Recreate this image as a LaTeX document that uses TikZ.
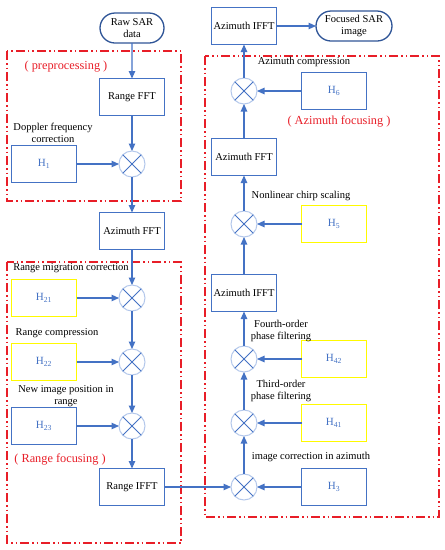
\documentclass[tikz,border=0pt]{standalone}
\usepackage{fontspec}
\setmainfont{Liberation Serif}
\usetikzlibrary{arrows.meta,shapes.misc}
\definecolor{bl}{RGB}{68,114,196}
\definecolor{lbl}{RGB}{180,200,235}
\definecolor{dbl}{RGB}{47,85,151}
\definecolor{rd}{RGB}{232,30,40}
\definecolor{yl}{RGB}{255,250,0}
\tikzset{
  blk/.style={draw=bl,line width=1.3pt,minimum width=65pt,minimum height=37pt,inner sep=1pt,outer sep=0pt,font=\fontsize{10.5}{12}\selectfont},
  hblk/.style={blk,text=bl,font=\fontsize{11}{12}\selectfont},
  yblk/.style={hblk,draw=yl,line width=1.8pt},
  term/.style={draw=dbl,line width=1.3pt,rounded rectangle,minimum width=66pt,minimum height=30pt,inner sep=1pt,outer sep=0pt,align=center,font=\fontsize{10.5}{12}\selectfont},
  mult/.style={circle,draw=lbl,line width=1pt,minimum size=26pt,inner sep=0pt,outer sep=0pt},
  arr/.style={draw=bl,line width=1.1pt,-{Triangle[length=7.5pt,width=6.5pt]}},
  lbl/.style={font=\fontsize{10.5}{11.5}\selectfont,align=center,inner sep=0pt},
  rlbl/.style={font=\fontsize{12.3}{14}\selectfont,text=rd,inner sep=0pt},
  grp/.style={draw=rd,line width=1.5pt,dash pattern=on 9pt off 3pt on 1.5pt off 3pt on 1.5pt off 3pt},
}
\newcommand{\crossx}[1]{\draw[bl,line width=1pt] (#1.45) -- (#1.225) (#1.135) -- (#1.315);}
\begin{document}
\begin{tikzpicture}[x=1pt,y=-1pt]
\useasboundingbox (0,0) rectangle (445,550);
% group boxes
\draw[grp] (7,51) rectangle (181,201);
\draw[grp] (7,262) rectangle (181,543);
\draw[grp] (205,56) rectangle (439,517);
% left column
\node[term] (raw) at (132,28) {Raw SAR\\data};
\node[blk] (rfft) at (132,97) {Range FFT};
\node[hblk] (h1) at (44,164) {H\textsubscript{1}};
\node[mult] (m1) at (132,164) {}; \crossx{m1}
\node[blk] (afft1) at (132,231) {Azimuth FFT};
\node[yblk] (h21) at (44,298) {H\textsubscript{21}};
\node[mult] (m21) at (132,298) {}; \crossx{m21}
\node[yblk] (h22) at (44,362) {H\textsubscript{22}};
\node[mult] (m22) at (132,362) {}; \crossx{m22}
\node[hblk] (h23) at (44,426) {H\textsubscript{23}};
\node[mult] (m23) at (132,426) {}; \crossx{m23}
\node[blk] (rifft) at (132,487) {Range IFFT};
% right column
\node[blk] (aifft2) at (244,26) {Azimuth IFFT};
\node[term,minimum width=78pt] (foc) at (354,26) {Focused SAR\\image};
\node[mult] (m6) at (244,91) {}; \crossx{m6}
\node[hblk] (h6) at (334,91) {H\textsubscript{6}};
\node[blk] (afft2) at (244,157) {Azimuth FFT};
\node[mult] (m5) at (244,224) {}; \crossx{m5}
\node[yblk] (h5) at (334,224) {H\textsubscript{5}};
\node[blk] (aifft1) at (244,293) {Azimuth IFFT};
\node[mult] (m42) at (244,359) {}; \crossx{m42}
\node[yblk] (h42) at (334,359) {H\textsubscript{42}};
\node[mult] (m41) at (244,423) {}; \crossx{m41}
\node[yblk] (h41) at (334,423) {H\textsubscript{41}};
\node[mult] (m3) at (244,487) {}; \crossx{m3}
\node[hblk] (h3) at (334,487) {H\textsubscript{3}};
% labels
\node[rlbl] (tpre) at (66,67) {(~preprocessing~)};
\node[rlbl] (trng) at (60,459) {(~Range focusing~)};
\node[rlbl] (tazi) at (339,121) {(~Azimuth focusing~)};
\node[lbl] (tdop) at (53,133) {Doppler frequency\\correction};
\node[lbl] (trmc) at (71,268) {Range migration correction};
\node[lbl] (trc) at (57,333) {Range compression};
\node[lbl] (tnip) at (66,396) {New image position in\\range};
\node[lbl] (tac) at (304,62) {Azimuth compression};
\node[lbl] (tncs) at (301,196) {Nonlinear chirp scaling};
\node[lbl] (tfo) at (281,331) {Fourth-order\\phase filtering};
\node[lbl] (tto) at (281,391) {Third-order\\phase filtering};
\node[lbl] (tica) at (311,457) {image correction in azimuth};
% connectors left
\draw[arr] (raw) -- (rfft);
\draw[arr] (rfft) -- (m1);
\draw[arr] (h1) -- (m1);
\draw[arr] (m1) -- (afft1);
\draw[arr] (afft1) -- (m21);
\draw[arr] (h21) -- (m21);
\draw[arr] (m21) -- (m22);
\draw[arr] (h22) -- (m22);
\draw[arr] (m22) -- (m23);
\draw[arr] (h23) -- (m23);
\draw[arr] (m23) -- (rifft);
\draw[arr] (rifft) -- (m3);
% connectors right
\draw[arr] (h3) -- (m3);
\draw[arr] (m3) -- (m41);
\draw[arr] (h41) -- (m41);
\draw[arr] (m41) -- (m42);
\draw[arr] (h42) -- (m42);
\draw[arr] (m42) -- (aifft1);
\draw[arr] (aifft1) -- (m5);
\draw[arr] (h5) -- (m5);
\draw[arr] (m5) -- (afft2);
\draw[arr] (afft2) -- (m6);
\draw[arr] (h6) -- (m6);
\draw[arr] (m6) -- (aifft2);
\draw[arr] (aifft2) -- (foc);
\end{tikzpicture}
\end{document}
